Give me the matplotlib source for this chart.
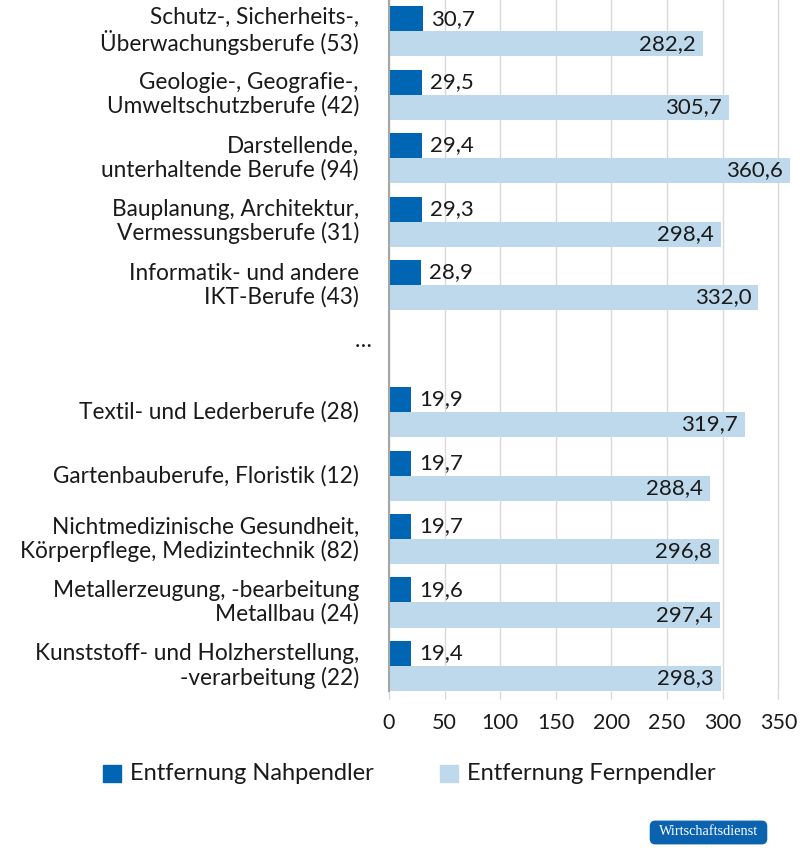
import numpy as np
import matplotlib
matplotlib.use("Agg")
import matplotlib.pyplot as plt
from matplotlib.patches import FancyBboxPatch, Rectangle

plt.rcParams['font.family'] = ['Lato', 'DejaVu Sans']

categories = [
    "Schutz-, Sicherheits-,\nÜberwachungsberufe (53)",
    "Geologie-, Geografie-,\nUmweltschutzberufe (42)",
    "Darstellende,\nunterhaltende Berufe (94)",
    "Bauplanung, Architektur,\nVermessungsberufe (31)",
    "Informatik- und andere\nIKT-Berufe (43)",
    "…",
    "Textil- und Lederberufe (28)",
    "Gartenbauberufe, Floristik (12)",
    "Nichtmedizinische Gesundheit,\nKörperpflege, Medizintechnik (82)",
    "Metallerzeugung, -bearbeitung\nMetallbau (24)",
    "Kunststoff- und Holzherstellung,\n-verarbeitung (22)",
]
nah = [30.7, 29.5, 29.4, 29.3, 28.9, np.nan, 19.9, 19.7, 19.7, 19.6, 19.4]
fern = [282.2, 305.7, 360.6, 298.4, 332.0, np.nan, 319.7, 288.4, 296.8, 297.4, 298.3]
xticks = [0, 50, 100, 150, 200, 250, 300, 350]
legend_labels = ["Entfernung Nahpendler", "Entfernung Fernpendler"]

c_dark = "#0066b3"
c_light = "#bed8ec"
txt = "#1a1a1a"

W, H = 800, 866
fig = plt.figure(figsize=(W/100, H/100), dpi=100)
ax = fig.add_axes([389/W, 1-691/H, (795-389)/W, 691/H])

y = np.arange(len(categories))
bh = 0.394
ax.barh(y - bh/2, nah, height=bh, color=c_dark, zorder=3)
ax.barh(y + bh/2, fern, height=bh, color=c_light, zorder=3)

ax.set_xlim(0, 365)
ax.set_ylim(len(categories) - 1 + bh, -0.49)

fs_lab = 16.3
fs_val = 16
for i, (n, f) in enumerate(zip(nah, fern)):
    if np.isnan(n):
        continue
    ax.annotate(f"{n:.1f}".replace(".", ","), (n, i - bh/2), xytext=(6, 0),
                textcoords="offset points", ha="left", va="center",
                fontsize=fs_val, color=txt, zorder=4)
    ax.annotate(f"{f:.1f}".replace(".", ","), (f, i + bh/2), xytext=(-5, 0),
                textcoords="offset points", ha="right", va="center",
                fontsize=fs_val, color=txt, zorder=4)

ax.set_yticks([])
for i, c in enumerate(categories):
    if c == "…":
        ax.text(-17/1.111, i - 0.13, c, ha="right", va="center", fontsize=fs_lab,
                color=txt)
    else:
        ax.text(-30/1.111, i, c, ha="right", va="center", fontsize=fs_lab,
                color=txt, linespacing=1.12)

ax.set_xticks(xticks)
ax.set_xticklabels([str(t) for t in xticks], fontsize=15.5, color=txt)
ax.tick_params(axis="x", direction="out", length=6, width=1, color="#d9d9d9",
               pad=10)
ax.grid(axis="x", color="#d9d9d9", linewidth=1, zorder=0)
for s in ["top", "right", "bottom"]:
    ax.spines[s].set_visible(False)
ax.spines["left"].set_color("#a6a6a6")
ax.spines["left"].set_linewidth(1.5)
ax.spines["left"].set_zorder(5)

# legend
ly = 1 - 773/H
for (x0, col, lab) in [(103, c_dark, legend_labels[0]), (440, c_light, legend_labels[1])]:
    fig.patches.append(Rectangle((x0/W, 1-782/H), 18/W, 17/H, color=col,
                                 transform=fig.transFigure, figure=fig))
    fig.text((x0+27)/W, ly, lab, ha="left", va="center", fontsize=17, color=txt)

# logo
box = FancyBboxPatch((652/W, 1-842/H), 113/W, 19/H,
                     boxstyle="round,pad=0.002,rounding_size=0.006",
                     transform=fig.transFigure, color="#0b63b0", figure=fig)
fig.patches.append(box)
fig.text(708.5/W, 1-831.5/H, "Wirtschaftsdienst", ha="center", va="center",
         fontsize=10.3, color="white", family="Liberation Serif")

fig.savefig("out.png", dpi=100)
